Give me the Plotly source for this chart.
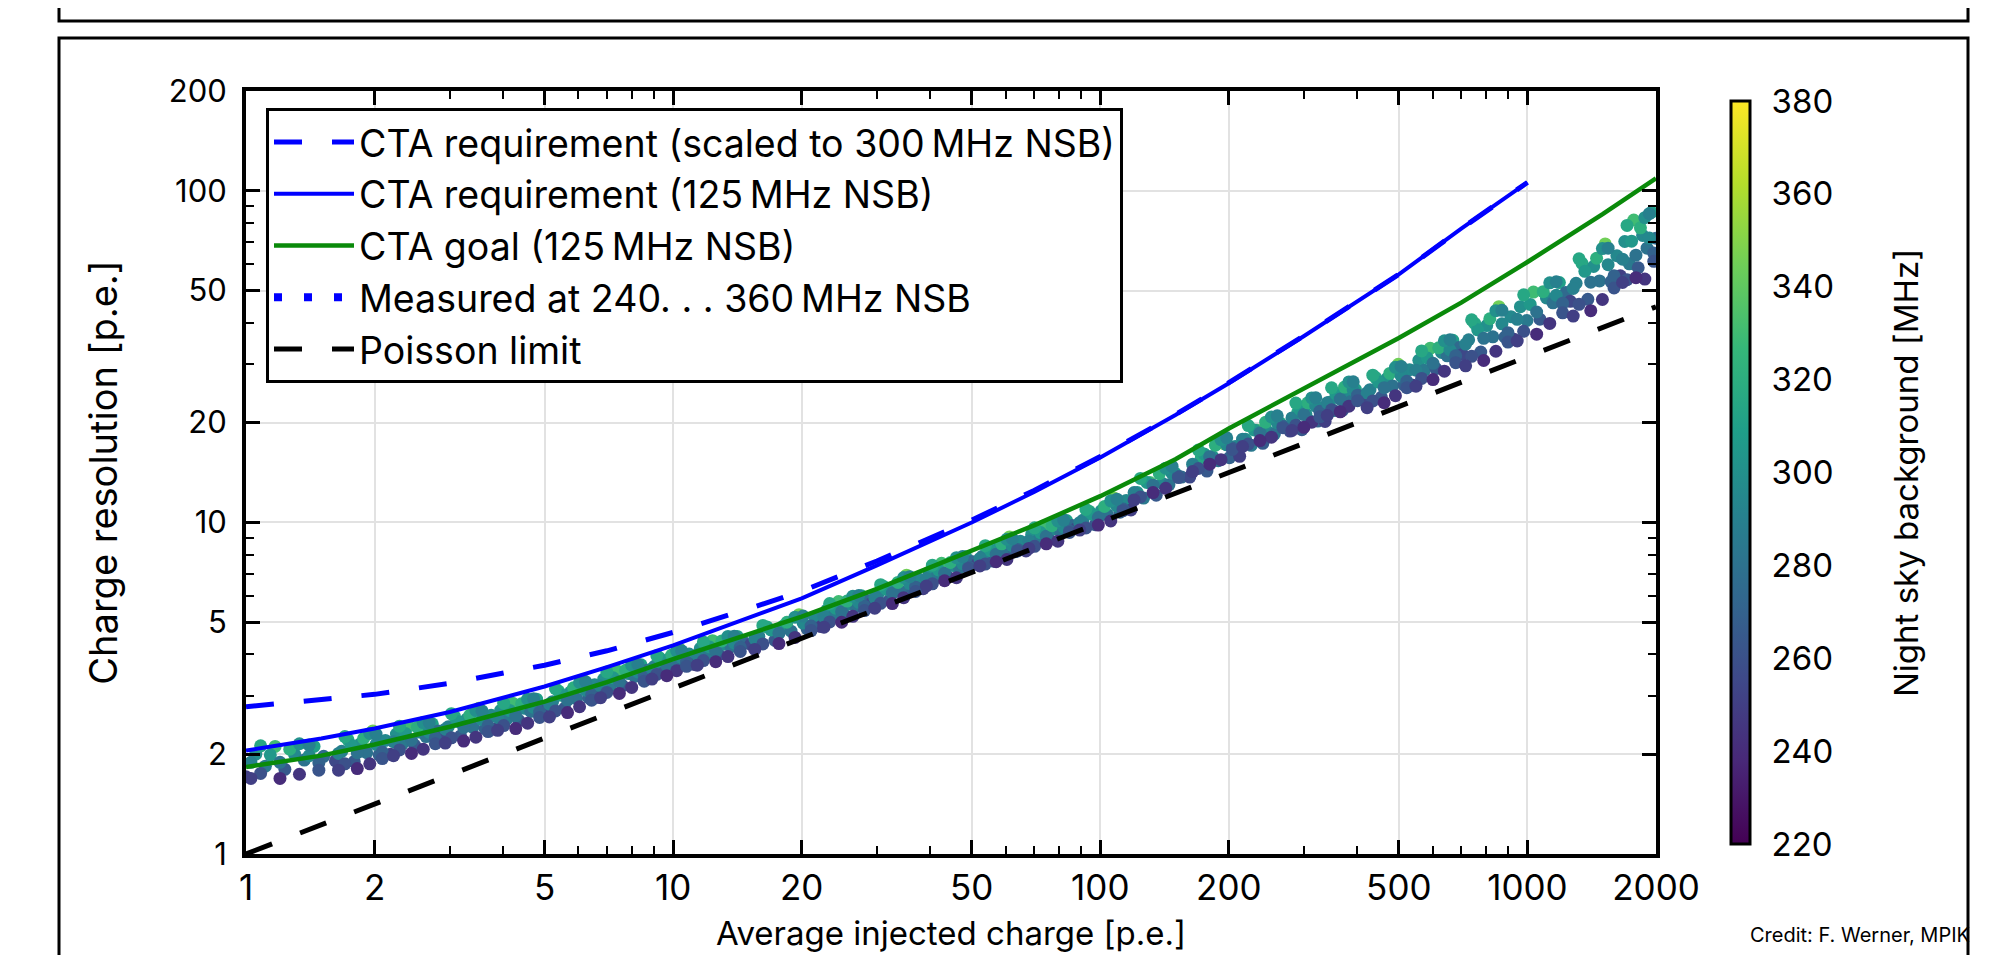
import plotly.graph_objects as go

# ---------------- data ----------------
CURVE_X = [1, 1.5, 2, 3, 5, 7, 10, 15, 20, 30, 50, 70, 100, 150, 200, 300, 500, 700, 1000]
REQ_300MHZ = [2.78, 2.91, 3.03, 3.27, 3.71, 4.10, 4.66, 5.49, 6.20, 7.65, 10.16, 12.49, 15.8, 21.15, 26.4, 36.6, 56.0, 76.9, 106]
REQ_125MHZ = [2.05, 2.23, 2.39, 2.68, 3.20, 3.66, 4.26, 5.16, 5.90, 7.42, 9.99, 12.35, 15.7, 21.07, 26.3, 36.5, 56.0, 76.9, 106]

GOAL_X = [1, 1.5, 2, 3, 5, 7, 10, 15, 20, 30, 50, 70, 100, 150, 200, 300, 500, 700, 1000, 1500, 2000]
GOAL_125MHZ = [1.83, 1.98, 2.14, 2.42, 2.88, 3.30, 3.87, 4.60, 5.20, 6.30, 8.20, 9.80, 12.0, 15.5, 19.2, 25.3, 36.0, 46.0, 61.0, 85.0, 109]

POISSON_X = [1, 10, 100, 1000, 2000]
POISSON_Y = [1.0, 3.16, 10.0, 31.6, 44.7]

# measured points, first layer (read cluster by cluster)
MEAS_X = [
    1.00, 1.054, 1.110, 1.170, 1.233, 1.299, 1.369, 1.443, 1.52,
    1.62, 1.675, 1.733, 1.792, 1.853, 1.917, 1.982, 2.050, 2.120,
    2.18, 2.25, 2.325, 2.40, 2.48, 2.56, 2.64, 2.73, 2.82,
    2.88, 2.976, 3.076, 3.18, 3.286, 3.396, 3.51, 3.628, 3.75,
    3.82, 3.946, 4.076, 4.21, 4.35, 4.49, 4.64, 4.79, 4.95,
    5.05, 5.22, 5.39, 5.57, 5.75, 5.94, 6.14, 6.34, 6.55,
    6.65, 6.88, 7.11, 7.36, 7.61, 7.87, 8.13, 8.41, 8.70,
    8.80, 9.04, 9.28, 9.54, 9.79, 10.06, 10.33, 10.61, 10.90,
    11.2, 11.58, 11.97, 12.37, 12.79, 13.22, 13.67, 14.13, 14.6,
    15.2, 15.87, 16.58, 17.31, 18.07, 18.88, 19.71, 20.59, 21.5,
    22.2, 22.9, 23.6, 24.4, 25.2, 25.9, 26.8, 27.6, 28.5,
    29.2, 30.1, 31.1, 32.1, 33.1, 34.1, 35.2, 36.4, 37.5,
    38.5, 39.8, 41.1, 42.5, 43.9, 45.3, 46.8, 48.4, 50.0,
    51.5, 53.0, 54.6, 56.2, 57.9, 59.6, 61.3, 63.1, 65.0,
    67.0, 69.1, 71.3, 73.6, 75.9, 78.3, 80.8, 83.4, 86.0,
    88.0, 91.0, 94.1, 97.3, 100.6, 104.0, 107.6, 111.2, 115.0,
    118, 122.1, 126.3, 130.7, 135.2, 139.9, 144.8, 149.8, 155.0,
    162, 167.1, 172.3, 177.7, 183.2, 188.8, 194.7, 200.7, 207.0,
    212, 218.7, 225.6, 232.8, 240.2, 247.7, 255.6, 263.7, 272.0,
    278, 284, 290, 296.5, 303, 309.5, 316, 323, 330,
    336, 343.9, 352.0, 360.3, 368.8, 377.6, 386.5, 395.6, 405,
    415, 428, 441.2, 454.9, 469.0, 483.5, 498.5, 514, 530,
    540, 557, 574, 592, 610.5, 629.5, 649, 669, 690,
    705, 728.5, 752.5, 777.5, 803, 830, 857.5, 886, 915,
    930, 963, 997.5, 1033, 1070, 1108, 1147.5, 1188, 1230,
    1260, 1300, 1342, 1385, 1429, 1475, 1521, 1570, 1620,
    1650, 1690, 1732, 1774, 1817, 1861, 1906, 1953, 2000,
]
MEAS_Y = [
    1.71, 2.00, 1.84, 2.11, 1.80, 2.00, 1.92, 2.11, 1.97,
    1.91, 2.04, 2.21, 1.90, 2.15, 2.02, 2.35, 1.99, 2.20,
    2.00, 2.30, 2.15, 2.43, 2.13, 2.33, 2.26, 2.47, 2.35,
    2.28, 2.42, 2.60, 2.27, 2.55, 2.41, 2.75, 2.39, 2.62,
    2.38, 2.71, 2.55, 2.85, 2.53, 2.75, 2.69, 2.93, 2.79,
    2.71, 2.88, 3.10, 2.75, 3.08, 2.94, 3.35, 2.96, 3.24,
    2.97, 3.37, 3.20, 3.58, 3.22, 3.50, 3.43, 3.72, 3.58,
    3.49, 3.68, 3.91, 3.54, 3.88, 3.74, 4.16, 3.73, 4.01,
    3.73, 4.17, 3.98, 4.40, 3.99, 4.29, 4.22, 4.53, 4.36,
    4.29, 4.53, 4.84, 4.41, 4.86, 4.70, 5.27, 4.77, 5.18,
    4.85, 5.44, 5.20, 5.77, 5.25, 5.67, 5.58, 6.01, 5.81,
    5.71, 6.02, 6.41, 5.83, 6.42, 6.20, 6.93, 6.27, 6.76,
    6.31, 7.09, 6.79, 7.53, 6.86, 7.41, 7.31, 7.88, 7.62,
    7.49, 7.91, 8.41, 7.64, 8.39, 8.09, 9.04, 8.15, 8.77,
    8.20, 9.20, 8.80, 9.75, 8.87, 9.56, 9.41, 10.13, 9.79,
    9.60, 10.15, 10.81, 9.84, 10.85, 10.54, 11.85, 10.74, 11.65,
    10.90, 12.31, 11.84, 13.19, 12.08, 13.10, 12.98, 14.06, 13.70,
    13.70, 14.56, 15.60, 14.28, 15.80, 15.35, 17.27, 15.68, 16.94,
    15.82, 17.82, 17.08, 18.97, 17.32, 18.72, 18.47, 19.94, 19.32,
    18.86, 20.03, 21.46, 19.04, 21.24, 20.23, 22.98, 20.21, 22.01,
    20.15, 23.05, 21.74, 24.46, 21.75, 23.71, 23.17, 25.18, 24.05,
    23.36, 25.14, 27.33, 23.85, 27.16, 25.77, 29.98, 25.98, 28.88,
    25.90, 30.81, 28.79, 33.49, 29.10, 32.56, 31.80, 35.43, 33.66,
    32.10, 35.55, 39.83, 32.65, 39.23, 36.27, 44.72, 36.19, 41.74,
    35.68, 44.73, 40.64, 49.50, 40.99, 47.53, 45.94, 52.89, 49.32,
    46.43, 52.63, 60.44, 47.06, 59.15, 53.49, 69.18, 53.24, 63.71,
    55.40, 70.34, 60.22, 81.65, 58.61, 73.34, 67.16, 86.16, 72.00,
]
MEAS_NSB = [
    250, 300, 285, 330, 265, 295, 280, 310, 275,
    255, 290, 315, 265, 300, 280, 345, 270, 295,
    250, 300, 285, 330, 265, 295, 280, 310, 275,
    255, 290, 315, 265, 300, 280, 345, 270, 295,
    250, 300, 285, 330, 265, 295, 280, 310, 275,
    255, 290, 315, 265, 300, 280, 345, 270, 295,
    250, 300, 285, 330, 265, 295, 280, 310, 275,
    255, 290, 315, 265, 300, 280, 345, 270, 295,
    250, 300, 285, 330, 265, 295, 280, 310, 275,
    255, 290, 315, 265, 300, 280, 345, 270, 295,
    250, 300, 285, 330, 265, 295, 280, 310, 275,
    255, 290, 315, 265, 300, 280, 345, 270, 295,
    250, 300, 285, 330, 265, 295, 280, 310, 275,
    255, 290, 315, 265, 300, 280, 345, 270, 295,
    250, 300, 285, 330, 265, 295, 280, 310, 275,
    255, 290, 315, 265, 300, 280, 345, 270, 295,
    250, 300, 285, 330, 265, 295, 280, 310, 275,
    255, 290, 315, 265, 300, 280, 345, 270, 295,
    250, 300, 285, 330, 265, 295, 280, 310, 275,
    255, 290, 315, 265, 300, 280, 345, 270, 295,
    250, 300, 285, 330, 265, 295, 280, 310, 275,
    255, 290, 315, 265, 300, 280, 345, 270, 295,
    250, 300, 285, 330, 265, 295, 280, 310, 275,
    255, 290, 315, 265, 300, 280, 345, 270, 295,
    250, 300, 285, 330, 265, 295, 280, 310, 275,
    255, 290, 315, 265, 300, 280, 345, 270, 295,
    250, 300, 285, 330, 265, 295, 280, 310, 275,
]

# measured points, second layer (between the points of the first layer)
MEAS2_X = [
    1.027, 1.082, 1.140, 1.201, 1.266, 1.334, 1.406, 1.481,
    1.647, 1.704, 1.762, 1.822, 1.885, 1.949, 2.016, 2.085,
    2.215, 2.287, 2.362, 2.44, 2.52, 2.60, 2.685, 2.775,
    2.928, 3.026, 3.128, 3.233, 3.341, 3.453, 3.569, 3.688,
    3.883, 4.011, 4.142, 4.28, 4.419, 4.564, 4.714, 4.869,
    5.134, 5.304, 5.479, 5.659, 5.844, 6.039, 6.239, 6.444,
    6.764, 6.994, 7.234, 7.484, 7.739, 7.999, 8.269, 8.554,
    8.919, 9.159, 9.409, 9.664, 9.924, 10.19, 10.47, 10.75,
    11.39, 11.77, 12.17, 12.58, 13.0, 13.44, 13.9, 14.36,
    15.53, 16.22, 16.94, 17.69, 18.47, 19.29, 20.15, 21.04,
    22.55, 23.25, 24.0, 24.8, 25.55, 26.35, 27.2, 28.05,
    29.65, 30.6, 31.6, 32.6, 33.6, 34.65, 35.8, 36.95,
    39.15, 40.45, 41.8, 43.2, 44.6, 46.05, 47.6, 49.2,
    52.25, 53.8, 55.4, 57.05, 58.75, 60.45, 62.2, 64.05,
    68.05, 70.2, 72.45, 74.75, 77.1, 79.55, 82.1, 84.7,
    89.5, 92.55, 95.7, 98.95, 102.3, 105.8, 109.4, 113.1,
    120.0, 124.2, 128.5, 132.9, 137.5, 142.3, 147.3, 152.4,
    164.5, 169.7, 175.0, 180.4, 186.0, 191.7, 197.7, 203.8,
    215.3, 222.1, 229.2, 236.5, 243.9, 251.6, 259.6, 267.8,
    281, 287, 293.2, 299.7, 306.2, 312.7, 319.5, 326.5,
    339.9, 347.9, 356.1, 364.5, 373.2, 382.0, 391.0, 400.3,
    421.4, 434.5, 448.0, 461.9, 476.2, 490.9, 506.2, 521.9,
    548.4, 565.4, 582.9, 601.2, 619.9, 639.2, 658.9, 679.4,
    716.7, 740.4, 764.9, 790.1, 816.4, 843.6, 871.6, 900.4,
    946.4, 980.1, 1015, 1051, 1089, 1128, 1168, 1209,
    1280, 1321, 1363, 1407, 1452, 1498, 1545, 1595,
    1670, 1711, 1753, 1795, 1839, 1883, 1929, 1976,
]
MEAS2_Y = [
    1.89, 1.75, 1.99, 1.89, 2.07, 1.74, 1.98, 1.88,
    2.01, 1.87, 2.13, 2.02, 2.23, 1.87, 2.14, 2.03,
    2.18, 2.06, 2.31, 2.21, 2.41, 2.07, 2.33, 2.24,
    2.38, 2.24, 2.51, 2.41, 2.62, 2.25, 2.54, 2.44,
    2.58, 2.44, 2.71, 2.61, 2.84, 2.48, 2.77, 2.68,
    2.83, 2.70, 3.01, 2.91, 3.17, 2.78, 3.12, 3.02,
    3.21, 3.07, 3.40, 3.31, 3.58, 3.18, 3.54, 3.44,
    3.62, 3.48, 3.82, 3.71, 3.98, 3.57, 3.91, 3.79,
    3.99, 3.83, 4.21, 4.09, 4.39, 3.94, 4.33, 4.20,
    4.46, 4.30, 4.74, 4.63, 5.00, 4.50, 4.97, 4.87,
    5.20, 5.01, 5.51, 5.38, 5.79, 5.21, 5.74, 5.59,
    5.93, 5.70, 6.28, 6.12, 6.59, 5.93, 6.54, 6.38,
    6.77, 6.53, 7.19, 7.02, 7.57, 6.81, 7.51, 7.33,
    7.78, 7.49, 8.22, 8.01, 8.62, 7.73, 8.51, 8.29,
    8.79, 8.47, 9.32, 9.08, 9.77, 8.78, 9.68, 9.43,
    9.98, 9.62, 10.59, 10.34, 11.17, 10.10, 11.19, 10.97,
    12.31, 11.93, 13.20, 12.95, 14.02, 12.67, 14.05, 13.79,
    14.98, 14.54, 16.09, 15.78, 17.09, 15.46, 17.14, 16.77,
    17.83, 17.23, 19.01, 18.59, 20.06, 18.07, 19.97, 19.51,
    20.66, 19.65, 21.91, 21.14, 22.95, 20.05, 22.43, 21.62,
    22.94, 21.85, 24.39, 23.55, 25.60, 22.41, 25.08, 24.20,
    24.59, 23.25, 26.49, 25.49, 28.13, 24.11, 27.62, 26.64,
    28.77, 27.17, 31.34, 30.18, 33.63, 28.59, 33.11, 31.81,
    34.50, 31.68, 38.08, 35.91, 41.13, 32.82, 39.72, 37.35,
    40.98, 37.69, 45.45, 43.11, 49.64, 39.81, 48.43, 45.78,
    50.77, 45.46, 57.16, 53.04, 62.62, 47.01, 59.86, 55.42,
    62.20, 53.92, 70.51, 63.98, 77.34, 54.17, 72.03, 64.89,
]
MEAS2_NSB = [
    290, 260, 305, 280, 320, 245, 295, 270,
    290, 260, 305, 280, 320, 245, 295, 270,
    290, 260, 305, 280, 320, 245, 295, 270,
    290, 260, 305, 280, 320, 245, 295, 270,
    290, 260, 305, 280, 320, 245, 295, 270,
    290, 260, 305, 280, 320, 245, 295, 270,
    290, 260, 305, 280, 320, 245, 295, 270,
    290, 260, 305, 280, 320, 245, 295, 270,
    290, 260, 305, 280, 320, 245, 295, 270,
    290, 260, 305, 280, 320, 245, 295, 270,
    290, 260, 305, 280, 320, 245, 295, 270,
    290, 260, 305, 280, 320, 245, 295, 270,
    290, 260, 305, 280, 320, 245, 295, 270,
    290, 260, 305, 280, 320, 245, 295, 270,
    290, 260, 305, 280, 320, 245, 295, 270,
    290, 260, 305, 280, 320, 245, 295, 270,
    290, 260, 305, 280, 320, 245, 295, 270,
    290, 260, 305, 280, 320, 245, 295, 270,
    290, 260, 305, 280, 320, 245, 295, 270,
    290, 260, 305, 280, 320, 245, 295, 270,
    290, 260, 305, 280, 320, 245, 295, 270,
    290, 260, 305, 280, 320, 245, 295, 270,
    290, 260, 305, 280, 320, 245, 295, 270,
    290, 260, 305, 280, 320, 245, 295, 270,
    290, 260, 305, 280, 320, 245, 295, 270,
    290, 260, 305, 280, 320, 245, 295, 270,
    290, 260, 305, 280, 320, 245, 295, 270,
]

# measured points, third layer (upper and lower edges of the band)
MEAS3_X = [
    1.027, 1.082, 1.201, 1.334, 1.406, 1.481,
    1.647, 1.704, 1.822, 1.949, 2.016, 2.085,
    2.215, 2.287, 2.44, 2.60, 2.685, 2.775,
    2.928, 3.026, 3.233, 3.453, 3.569, 3.688,
    3.883, 4.011, 4.28, 4.564, 4.714, 4.869,
    5.134, 5.304, 5.659, 6.039, 6.239, 6.444,
    6.764, 6.994, 7.484, 7.999, 8.269, 8.554,
    8.919, 9.159, 9.664, 10.19, 10.47, 10.75,
    11.39, 11.77, 12.58, 13.44, 13.9, 14.36,
    15.53, 16.22, 17.69, 19.29, 20.15, 21.04,
    22.55, 23.25, 24.8, 26.35, 27.2, 28.05,
    29.65, 30.6, 32.6, 34.65, 35.8, 36.95,
    39.15, 40.45, 43.2, 46.05, 47.6, 49.2,
    52.25, 53.8, 57.05, 60.45, 62.2, 64.05,
    68.05, 70.2, 74.75, 79.55, 82.1, 84.7,
    89.5, 92.55, 98.95, 105.8, 109.4, 113.1,
    120.0, 124.2, 132.9, 142.3, 147.3, 152.4,
    164.5, 169.7, 180.4, 191.7, 197.7, 203.8,
    215.3, 222.1, 236.5, 251.6, 259.6, 267.8,
    281, 287, 299.7, 312.7, 319.5, 326.5,
    339.9, 347.9, 364.5, 382.0, 391.0, 400.3,
    421.4, 434.5, 461.9, 490.9, 506.2, 521.9,
    548.4, 565.4, 601.2, 639.2, 658.9, 679.4,
    716.7, 740.4, 790.1, 843.6, 871.6, 900.4,
    946.4, 980.1, 1051, 1128, 1168, 1209,
    1280, 1321, 1407, 1498, 1545, 1595,
    1670, 1711, 1795, 1883, 1929, 1976,
]
MEAS3_Y = [
    1.69, 2.12, 1.69, 2.15, 2.13, 1.79,
    1.79, 2.26, 1.81, 2.31, 2.30, 1.94,
    1.98, 2.43, 2.01, 2.49, 2.49, 2.15,
    2.16, 2.65, 2.19, 2.71, 2.70, 2.34,
    2.36, 2.85, 2.39, 2.93, 2.94, 2.58,
    2.59, 3.15, 2.67, 3.29, 3.31, 2.91,
    2.96, 3.54, 3.05, 3.71, 3.73, 3.32,
    3.37, 3.96, 3.45, 4.10, 4.10, 3.68,
    3.71, 4.36, 3.80, 4.53, 4.54, 4.08,
    4.14, 4.89, 4.31, 5.18, 5.22, 4.72,
    4.83, 5.69, 5.00, 5.99, 6.02, 5.42,
    5.51, 6.49, 5.69, 6.82, 6.86, 6.19,
    6.43, 7.43, 6.67, 7.83, 7.89, 7.26,
    7.39, 8.51, 7.61, 8.90, 8.94, 8.20,
    8.35, 9.63, 8.62, 10.10, 10.16, 9.33,
    9.48, 10.94, 9.82, 11.62, 11.75, 10.85,
    11.69, 13.57, 12.30, 14.57, 14.75, 13.65,
    14.23, 16.52, 14.98, 17.78, 17.99, 16.60,
    16.94, 19.59, 17.65, 20.79, 20.96, 19.31,
    18.93, 22.91, 19.35, 23.73, 23.76, 20.82,
    21.01, 25.47, 21.55, 26.53, 26.56, 23.29,
    22.18, 27.80, 22.96, 29.36, 29.53, 25.47,
    25.75, 32.90, 26.96, 35.30, 35.56, 30.31,
    29.67, 40.84, 30.78, 43.51, 43.62, 34.97,
    35.24, 48.58, 36.95, 52.77, 53.18, 42.86,
    41.89, 62.35, 43.52, 66.95, 67.16, 50.93,
    52.90, 78.65, 54.70, 82.98, 85.30, 61.30,
]
MEAS3_NSB = [
    250, 315, 240, 300, 290, 262,
    250, 315, 240, 300, 290, 262,
    250, 315, 240, 300, 290, 262,
    250, 315, 240, 300, 290, 262,
    250, 315, 240, 300, 290, 262,
    250, 315, 240, 300, 290, 262,
    250, 315, 240, 300, 290, 262,
    250, 315, 240, 300, 290, 262,
    250, 315, 240, 300, 290, 262,
    250, 315, 240, 300, 290, 262,
    250, 315, 240, 300, 290, 262,
    250, 315, 240, 300, 290, 262,
    250, 315, 240, 300, 290, 262,
    250, 315, 240, 300, 290, 262,
    250, 315, 240, 300, 290, 262,
    250, 315, 240, 300, 290, 262,
    250, 315, 240, 300, 290, 262,
    250, 315, 240, 300, 290, 262,
    250, 315, 240, 300, 290, 262,
    250, 315, 240, 300, 290, 262,
    250, 315, 240, 300, 290, 262,
    250, 315, 240, 300, 290, 262,
    250, 315, 240, 300, 290, 262,
    250, 315, 240, 300, 290, 262,
    250, 315, 240, 300, 290, 262,
    250, 315, 240, 300, 290, 262,
    250, 315, 240, 300, 290, 262,
]

X_TICKS = [1, 2, 5, 10, 20, 50, 100, 200, 500, 1000, 2000]
X_MINOR = [3, 4, 6, 7, 8, 9, 30, 40, 60, 70, 80, 90, 300, 400, 600, 700, 800, 900]
Y_TICKS = [1, 2, 5, 10, 20, 50, 100, 200]
Y_MINOR = [3, 4, 6, 7, 8, 9, 30, 40, 60, 70, 80, 90]
NSB_TICKS = [220, 240, 260, 280, 300, 320, 340, 360, 380]

FONT = "Inter, Liberation Sans, Arial, sans-serif"
BLUE = "#0000ff"
GREEN = "#0a8a0a"

# ---------------- figure ----------------
W, H = 1991, 955
L, R, T, B = 238, 343, 83, 109
PW, PH = W - L - R, H - T - B


def px(x):
    return (x - L) / PW


def py(y):
    return (H - B - y) / PH


fig = go.Figure()

fig.add_trace(go.Scatter(
    x=MEAS_X + MEAS2_X + MEAS3_X, y=MEAS_Y + MEAS2_Y + MEAS3_Y,
    mode="markers", showlegend=False, name="Measured",
    marker=dict(size=13, color=MEAS_NSB + MEAS2_NSB + MEAS3_NSB, colorscale="Viridis",
                cmin=220, cmax=380, line=dict(width=0),
                colorbar=dict(
                    x=px(1723), xanchor="left", xpad=0, y=0.5, yanchor="middle",
                    len=1.0, lenmode="fraction", thickness=19,
                    outlinewidth=3, outlinecolor="black",
                    tickvals=NSB_TICKS, ticktext=[str(v) for v in NSB_TICKS],
                    ticks="outside", ticklen=14, tickcolor="rgba(0,0,0,0)",
                    tickfont=dict(family=FONT, size=33, color="black"),
                )),
))

fig.add_trace(go.Scatter(
    x=CURVE_X, y=REQ_300MHZ, mode="lines", name="CTA requirement (scaled to 300\u2009MHz NSB)",
    line=dict(color=BLUE, width=5, dash="28px,30px"), legendrank=1))
fig.add_trace(go.Scatter(
    x=CURVE_X, y=REQ_125MHZ, mode="lines", name="CTA requirement (125\u2009MHz NSB)",
    line=dict(color=BLUE, width=4), legendrank=2))
fig.add_trace(go.Scatter(
    x=GOAL_X, y=GOAL_125MHZ, mode="lines", name="CTA goal (125\u2009MHz NSB)",
    line=dict(color=GREEN, width=4.5), legendrank=3))
fig.add_trace(go.Scatter(
    x=[None], y=[None], mode="lines", name="Measured at 240. . . 360\u2009MHz NSB",
    line=dict(color=BLUE, width=8, dash="8px,22px"), legendrank=4))
fig.add_trace(go.Scatter(
    x=POISSON_X, y=POISSON_Y, mode="lines", name="Poisson limit",
    line=dict(color="black", width=5, dash="28px,30px"), legendrank=5))

axis_common = dict(
    type="log", showline=True, linewidth=4, linecolor="black", mirror="allticks",
    ticks="inside", ticklen=14, tickwidth=2.5, tickcolor="black",
    showgrid=True, gridcolor="#e2e2e2", gridwidth=1.5, zeroline=False,
)

fig.update_xaxes(
    **axis_common, range=[0, 3.30103], tickmode="array", tickvals=X_TICKS,
    ticktext=[str(v) for v in X_TICKS],
    tickfont=dict(family=FONT, size=35, color="black"),
    minor=dict(tickmode="array", tickvals=X_MINOR, ticks="inside", ticklen=8, tickwidth=2,
               tickcolor="black", showgrid=False),
    title=dict(text="Average injected charge [p.e.]", font=dict(family=FONT, size=33, color="black"),
               standoff=16),
)
fig.update_yaxes(
    **axis_common, range=[0, 2.30103], tickmode="array", tickvals=Y_TICKS,
    ticktext=[str(v) for v in Y_TICKS],
    tickfont=dict(family=FONT, size=31, color="black"), ticklabelstandoff=9,
    minor=dict(tickmode="array", tickvals=Y_MINOR, ticks="inside", ticklen=8, tickwidth=2,
               tickcolor="black", showgrid=False),
    title=dict(text="Charge resolution [p.e.]", font=dict(family=FONT, size=38, color="black"),
               standoff=40),
)

fig.update_layout(
    width=W, height=H, autosize=False,
    margin=dict(l=L, r=R, t=T, b=B, autoexpand=False),
    paper_bgcolor="white", plot_bgcolor="white",
    font=dict(family=FONT, color="black"),
    legend=dict(x=px(258), y=py(100), xanchor="left", yanchor="top",
                bgcolor="white", bordercolor="black", borderwidth=3,
                font=dict(family=FONT, size=37.5, color="black"),
                itemwidth=80, tracegroupgap=0),
    shapes=[
        dict(type="rect", xref="paper", yref="paper", x0=px(51), x1=px(1960), y0=py(13), y1=py(-20),
             line=dict(color="black", width=3), fillcolor="rgba(0,0,0,0)", layer="above"),
        dict(type="rect", xref="paper", yref="paper", x0=px(51), x1=px(1960), y0=py(975), y1=py(30),
             line=dict(color="black", width=3), fillcolor="rgba(0,0,0,0)", layer="below"),
    ],
    annotations=[
        dict(text="Night sky background [MHz]", xref="paper", yref="paper",
             x=px(1898), y=py(465), xanchor="center", yanchor="middle", textangle=-90,
             showarrow=False, font=dict(family=FONT, size=33, color="black")),
        dict(text="Credit: F. Werner, MPIK", xref="paper", yref="paper",
             x=px(1964), y=py(927), xanchor="right", yanchor="middle",
             showarrow=False, font=dict(family=FONT, size=20, color="black")),
    ],
)

fig.write_html("out.html", config={"displayModeBar": False})
